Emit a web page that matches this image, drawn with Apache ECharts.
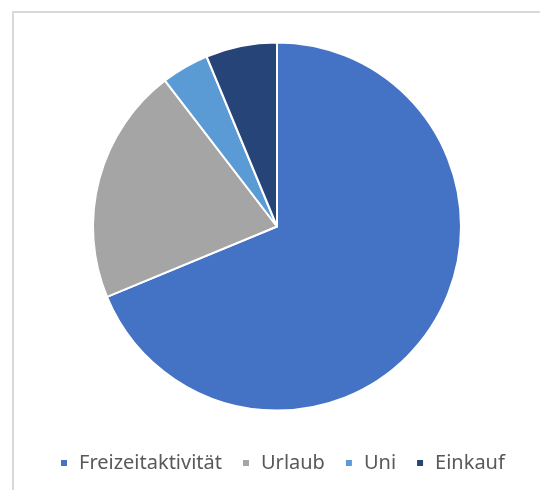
<!DOCTYPE html>
<html>
<head>
<meta charset="utf-8">
<script src="https://cdn.jsdelivr.net/npm/echarts@6/dist/echarts.min.js"></script>
<style>
  html, body { margin: 0; padding: 0; background: #fff; }
  #chart { width: 540px; height: 490px; }
</style>
</head>
<body>
<div id="chart"></div>
<script>
  const categories = ['Freizeitaktivität', 'Urlaub', 'Uni', 'Einkauf']
  const values = [33, 10, 2, 3]
  const colors = ['#4472C4', '#A5A5A5', '#5B9BD5', '#264478']

  const chart = echarts.init(document.getElementById('chart'))
  chart.setOption({
    animation: false,
    color: colors,
    graphic: [{
      type: 'rect',
      shape: { x: 13, y: 12, width: 700, height: 700 },
      style: { fill: 'none', stroke: '#d9d9d9', lineWidth: 2 },
      silent: true
    }],
    legend: {
      data: categories,
      left: 59,
      top: 453,
      padding: 0,
      icon: 'rect',
      itemWidth: 8,
      itemHeight: 8,
      itemGap: 19,
      textStyle: {
        fontFamily: 'Noto Sans',
        fontSize: 20,
        color: '#595959',
        padding: [0, 0, 0, 6]
      }
    },
    series: [{
      type: 'pie',
      center: [277, 226.5],
      radius: 184,
      startAngle: 90,
      clockwise: true,
      label: { show: false },
      labelLine: { show: false },
      itemStyle: { borderColor: '#fff', borderWidth: 2 },
      data: categories.map((name, i) => ({ name, value: values[i] }))
    }]
  })
</script>
</body>
</html>
